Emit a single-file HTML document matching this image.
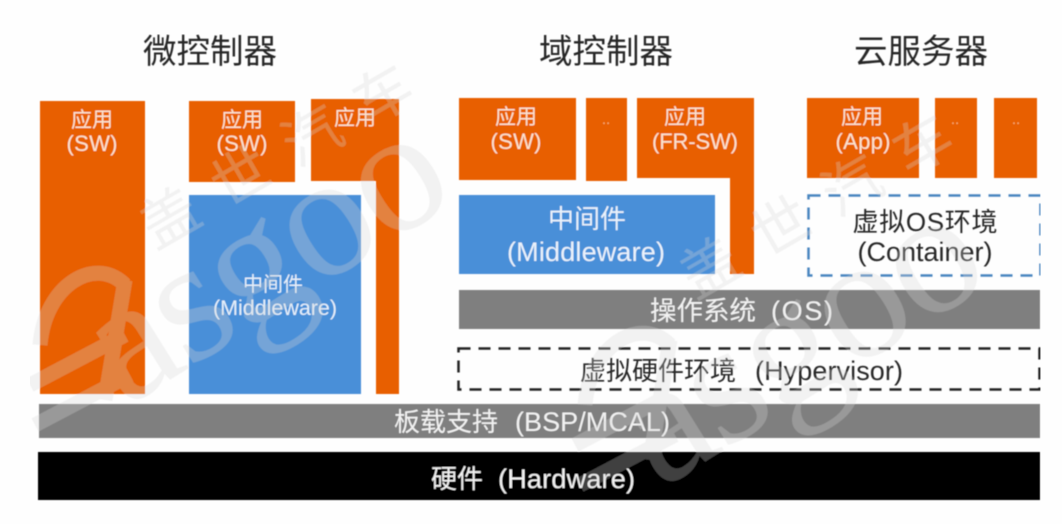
<!DOCTYPE html>
<html><head><meta charset="utf-8">
<style>
html,body{margin:0;padding:0;background:#fff}
svg{display:block}
text{font-family:"Liberation Sans","Noto Sans CJK SC",sans-serif;text-anchor:middle}
.s{text-anchor:start}
.o{fill:#e85e00}
.b{fill:#4a8fd8}
.g{fill:#7f7f7f}
.l{fill:#fbe3cf;font-size:21px}
.e{fill:#fbe3cf;font-size:22px}
.d{fill:#f5b070;font-size:15px}
</style></head><body>
<svg width="1062" height="524" viewBox="0 0 1062 524" xmlns="http://www.w3.org/2000/svg">
<defs><filter id="f" x="0" y="0" width="100%" height="100%"><feGaussianBlur stdDeviation="0.45"/></filter></defs>
<rect width="1062" height="524" fill="#fefefe"/>
<g filter="url(#f)">
<g font-size="33.5" fill="#262626">
<text x="210" y="63">微控制器</text>
<text x="606" y="63">域控制器</text>
<text x="921" y="63">云服务器</text>
</g>
<!-- microcontroller -->
<rect class="o" x="40" y="101" width="105" height="293"/>
<rect class="o" x="189" y="101" width="106" height="81"/>
<path class="o" d="M311 99H399V394H376V181H311Z"/>
<rect class="b" x="189" y="195" width="172" height="199"/>
<text class="l" x="92" y="127">应用</text><text class="e" x="92" y="151" textLength="51">(SW)</text>
<text class="l" x="242" y="127">应用</text><text class="e" x="242" y="151" textLength="51">(SW)</text>
<text class="l" x="355" y="125">应用</text>
<text x="273" y="291" font-size="20" fill="#e6f0fa">中间件</text>
<text x="275" y="315" font-size="21.5" fill="#e6f0fa" textLength="124">(Middleware)</text>
<!-- domain -->
<rect class="o" x="459" y="98" width="117" height="82"/>
<rect class="o" x="586" y="98" width="41" height="83"/>
<path class="o" d="M637 98H754V274H730V178H637Z"/>
<rect class="b" x="459" y="195" width="256" height="79"/>
<text class="l" x="516" y="124">应用</text><text class="e" x="516" y="149" textLength="51">(SW)</text>
<text class="d" x="606" y="124">..</text>
<text class="l" x="685" y="124">应用</text><text class="e" x="695" y="149" textLength="86">(FR-SW)</text>
<text x="587" y="228" font-size="26" fill="#eaf2fb">中间件</text>
<text x="586" y="261" font-size="27" fill="#eaf2fb" textLength="158">(Middleware)</text>
<!-- cloud -->
<rect class="o" x="807" y="98" width="112" height="80"/>
<rect class="o" x="935" y="98" width="42" height="80"/>
<rect class="o" x="994" y="98" width="43" height="80"/>
<text class="l" x="862" y="124">应用</text><text class="e" x="863" y="149" textLength="55">(App)</text>
<text class="d" x="955" y="124">..</text>
<text class="d" x="1016" y="124">..</text>
<rect x="808.5" y="195.5" width="232" height="80" fill="none" stroke="#4a86c0" stroke-width="2.5" stroke-dasharray="12 8"/>
<text x="925" y="231" font-size="26" fill="#262626" textLength="145">虚拟OS环境</text>
<text x="925" y="261" font-size="27" fill="#262626" textLength="135">(Container)</text>
<!-- shared -->
<rect class="g" x="459" y="290" width="581" height="39"/>
<text class="s" x="650" y="320" font-size="26.5" fill="#f2f2f2">操作系统</text>
<text class="s" x="771" y="320" font-size="27" fill="#f2f2f2" textLength="62">(OS)</text>
<rect x="458.5" y="348.5" width="581" height="41" fill="none" stroke="#222" stroke-width="2.5" stroke-dasharray="12 8"/>
<text class="s" x="580" y="380" font-size="26" fill="#262626">虚拟硬件环境</text>
<text class="s" x="755" y="380" font-size="27" fill="#262626" textLength="148">(Hypervisor)</text>
<rect class="g" x="39" y="404" width="1001" height="34"/>
<text class="s" x="394" y="431" font-size="26" fill="#f2f2f2">板载支持</text>
<text class="s" x="515" y="431" font-size="27" fill="#f2f2f2" textLength="155">(BSP/MCAL)</text>
<rect x="38" y="452" width="1002" height="48" fill="#000"/>
<text class="s" x="431" y="488" font-size="26" fill="#f2f2f2">硬件</text>
<text class="s" x="498" y="488" font-size="27" fill="#f2f2f2" textLength="137">(Hardware)</text>
<!-- watermark -->
<g fill="#d8d8d8" opacity=".3">
<text class="s" transform="translate(125 408) rotate(-32)" font-size="175" textLength="395" style="font-family:'Liberation Serif',serif">asgoo</text>
<text class="s" transform="translate(155 250) rotate(-30)" style="letter-spacing:24px" font-size="58">盖世汽车</text>
<text class="s" transform="translate(660 490) rotate(-32)" font-size="175" textLength="395" style="font-family:'Liberation Serif',serif">asgoo</text>
<text class="s" transform="translate(695 300) rotate(-30)" style="letter-spacing:24px" font-size="58">盖世汽车</text>
<g fill="none" stroke="#d8d8d8" stroke-width="15">
<path d="M40 345C45 285 95 255 125 285"/>
<path d="M30 385L125 335M35 425L130 375M125 280L105 400"/>
<path d="M585 405C590 345 640 315 670 345"/>
<path d="M575 445L670 395M580 485L675 435M670 340L650 460"/>
</g>
</g>
</g>
</svg>
</body></html>
